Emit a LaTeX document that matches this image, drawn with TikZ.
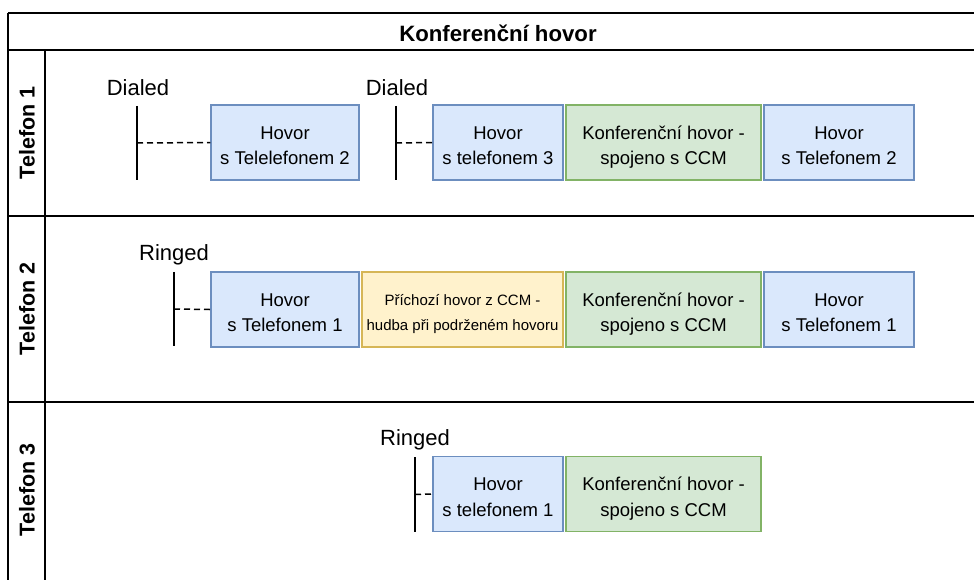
\documentclass[tikz,border=0pt]{standalone}
\usepackage{fontspec}
\setmainfont{Liberation Sans}
\newcommand\mytwolines[3]{\raisebox{-#1}[\height][\depth]{\begin{tabular}{@{}c@{}}#2\\#3\end{tabular}}}
\begin{document}
\begin{tikzpicture}[x=1pt,y=-1pt,
  frame/.style={line width=2pt,black},
  boxbase/.style={rectangle,draw,line width=1.5pt,minimum height=75pt,inner sep=0pt,
    font=\fontsize{18.5}{25.5}\selectfont},
  bluebox/.style={boxbase,fill={rgb,255:red,218;green,232;blue,252},draw={rgb,255:red,108;green,142;blue,191}},
  greenbox/.style={boxbase,fill={rgb,255:red,213;green,232;blue,212},draw={rgb,255:red,130;green,179;blue,102}},
  yellowbox/.style={boxbase,fill={rgb,255:red,255;green,242;blue,204},draw={rgb,255:red,214;green,182;blue,86},
    font=\fontsize{15}{25}\selectfont},
  lifeline/.style={inner sep=0pt,minimum width=0pt,minimum height=74pt},
  lifestroke/.style={line width=2pt,black},
  link/.style={line width=1.5pt,dash pattern=on 6pt off 4pt},
  evlabel/.style={font=\fontsize{22}{24}\selectfont,inner sep=0pt},
  lanelabel/.style={font=\bfseries\fontsize{21.5}{24}\selectfont,rotate=90,inner sep=0pt},
]
\useasboundingbox (0,0) rectangle (974,579);
\fill[white] (0,0) rectangle (974,579);
\begin{scope}
\clip (0,0) rectangle (974,579);
\draw[frame] (8,13) -- (990,13);
\draw[frame] (8,13) -- (8,600);
\draw[frame] (8,50) -- (990,50);
\draw[frame] (45,50) -- (45,600);
\draw[frame] (8,216) -- (990,216);
\draw[frame] (8,402) -- (990,402);
\end{scope}
\node[font=\bfseries\fontsize{22.2}{24}\selectfont,inner sep=0pt] (title) at (498,33) {Konferenční hovor};
\node[lanelabel] (t1) at (27,133) {Telefon 1};
\node[lanelabel] (t2) at (27,309) {Telefon 2};
\node[lanelabel] (t3) at (27,490) {Telefon 3};

% row 1
\node[evlabel] (d1) at (138,88) {Dialed};
\node[evlabel] (d2) at (397,88) {Dialed};
\node[lifeline] (l11) at (137,143) {};
\node[lifeline] (l12) at (396,143) {};
\draw[lifestroke] (l11.north) -- (l11.south);
\draw[lifestroke] (l12.north) -- (l12.south);
\node[bluebox,minimum width=148pt] (b11) at (285,142.5) {\mytwolines{4.5pt}{Hovor}{s Telelefonem 2}};
\node[bluebox,minimum width=130pt] (b12) at (498,142.5) {\mytwolines{4.5pt}{Hovor}{s telefonem 3}};
\node[greenbox,minimum width=195pt] (b13) at (663.5,142.5) {\mytwolines{4.5pt}{Konferenční hovor -}{spojeno s CCM}};
\node[bluebox,minimum width=150pt] (b14) at (839,142.5) {\mytwolines{4.5pt}{Hovor}{s Telefonem 2}};
\draw[link] (l11.center) -- (b11.west);
\draw[link] (l12.center) -- (b12.west);

% row 2
\node[evlabel] (r2) at (174,255) {Ringed};
\node[lifeline] (l21) at (174,309) {};
\draw[lifestroke] (l21.north) -- (l21.south);
\node[bluebox,minimum width=148pt] (b21) at (285,309.5) {\mytwolines{4.5pt}{Hovor}{s Telefonem 1}};
\node[yellowbox,minimum width=201pt] (b22) at (462.5,309.5) {\mytwolines{3pt}{Příchozí hovor z CCM -}{hudba při podrženém hovoru}};
\node[greenbox,minimum width=195pt] (b23) at (663.5,309.5) {\mytwolines{4.5pt}{Konferenční hovor -}{spojeno s CCM}};
\node[bluebox,minimum width=150pt] (b24) at (839,309.5) {\mytwolines{4.5pt}{Hovor}{s Telefonem 1}};
\draw[link] (l21.center) -- (b21.west);

% row 3
\node[evlabel] (r3) at (415,440) {Ringed};
\node[lifeline] (l31) at (415,494.5) {};
\draw[lifestroke] (l31.north) -- (l31.south);
\node[bluebox,minimum width=130pt] (b31) at (498,494) {\mytwolines{4.5pt}{Hovor}{s telefonem 1}};
\node[greenbox,minimum width=195pt] (b32) at (663.5,494) {\mytwolines{4.5pt}{Konferenční hovor -}{spojeno s CCM}};
\draw[link] (l31.center) -- (b31.west);
\end{tikzpicture}
\end{document}
